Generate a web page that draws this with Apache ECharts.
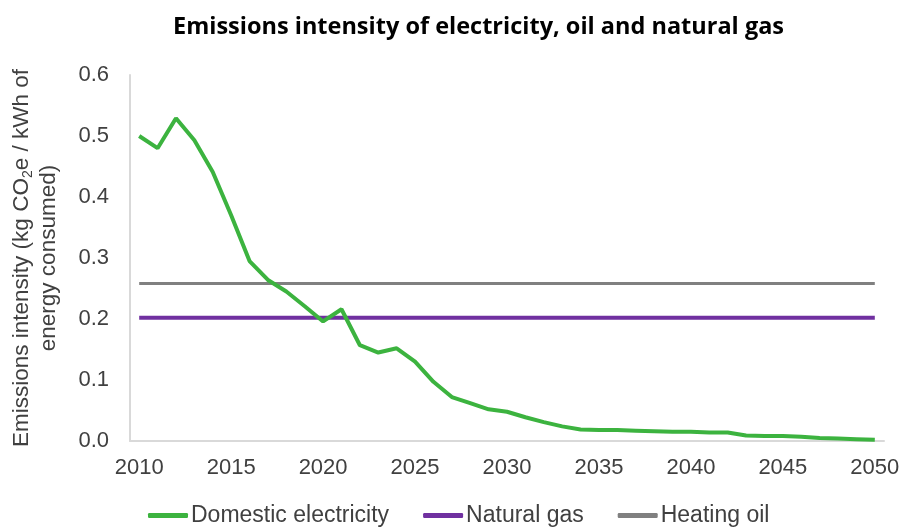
<!DOCTYPE html>
<html><head><meta charset="utf-8">
<script src="https://cdn.jsdelivr.net/npm/echarts@6/dist/echarts.min.js"></script>
<style>html,body{margin:0;padding:0;background:#fff}#c{width:904px;height:527px}</style>
</head><body><div id="c"></div>
<script>
const years = [];
for (let y = 2010; y <= 2050; y++) years.push(String(y));
const electricity = [0.500,0.480,0.529,0.493,0.441,0.370,0.295,0.264,0.245,0.221,0.196,0.216,0.157,0.145,0.152,0.130,0.097,0.072,0.062,0.052,0.048,0.039,0.031,0.024,0.019,0.018,0.018,0.017,0.016,0.015,0.015,0.014,0.014,0.009,0.008,0.008,0.007,0.005,0.004,0.003,0.002];
const naturalGas = years.map(() => 0.202);
const heatingOil = years.map(() => 0.258);
const yTicks = [0, 0.1, 0.2, 0.3, 0.4, 0.5, 0.6];

const chart = echarts.init(document.getElementById('c'), null, {renderer: 'canvas'});
const labelFont = '"Liberation Sans", Arial, sans-serif';
chart.setOption({
  animation: false,
  title: {
    text: 'Emissions intensity of electricity, oil and natural gas',
    left: 168, top: 10,
    textStyle: {fontFamily: '"Open Sans", sans-serif', fontWeight: 'bold', fontSize: 23.5, color: '#000'}
  },
  grid: {left: 129, right: 20, top: 75, bottom: 86},
  legend: {
    top: 504, left: 148, padding: 0,
    itemWidth: 40, itemHeight: 5, itemGap: 34,
    icon: 'roundRect',
    textStyle: {fontFamily: labelFont, fontSize: 23, color: '#404040', padding: [0,0,0,-2]},
    data: ['Domestic electricity', 'Natural gas', 'Heating oil']
  },
  xAxis: {
    type: 'category', data: years, boundaryGap: true,
    axisLine: {lineStyle: {color: '#d9d9d9', width: 2}},
    axisTick: {show: false},
    axisLabel: {
      interval: (i, v) => (Number(v) % 5 === 0),
      fontFamily: labelFont, fontSize: 22, color: '#404040', margin: 16
    }
  },
  yAxis: {
    type: 'value', min: yTicks[0], max: yTicks[yTicks.length-1], interval: 0.1,
    axisLine: {show: true, lineStyle: {color: '#d9d9d9', width: 2}},
    splitLine: {show: false},
    axisLabel: {fontFamily: labelFont, fontSize: 22, color: '#404040', margin: 21, formatter: v => v.toFixed(1)},
    name: 'Emissions intensity (kg CO{s|2}e / kWh of\nenergy consumed)',
    nameLocation: 'middle', nameRotate: 90, nameGap: 68,
    nameTextStyle: {
      fontFamily: labelFont, fontSize: 22.5, color: '#404040', lineHeight: 27,
      rich: {s: {fontFamily: labelFont, fontSize: 14, color: '#404040', verticalAlign: 'bottom', padding: [9,0,0,0]}}
    }
  },
  series: [
    {name: 'Domestic electricity', type: 'line', data: electricity, showSymbol: false, symbol: 'none',
     lineStyle: {color: '#3cb33f', width: 4}, itemStyle: {color: '#3cb33f'}, z: 3},
    {name: 'Natural gas', type: 'line', data: naturalGas, showSymbol: false, symbol: 'none',
     lineStyle: {color: '#7030a0', width: 4}, itemStyle: {color: '#7030a0'}, z: 2},
    {name: 'Heating oil', type: 'line', data: heatingOil, showSymbol: false, symbol: 'none',
     lineStyle: {color: '#808080', width: 3}, itemStyle: {color: '#808080'}, z: 1}
  ]
});
</script></body></html>
